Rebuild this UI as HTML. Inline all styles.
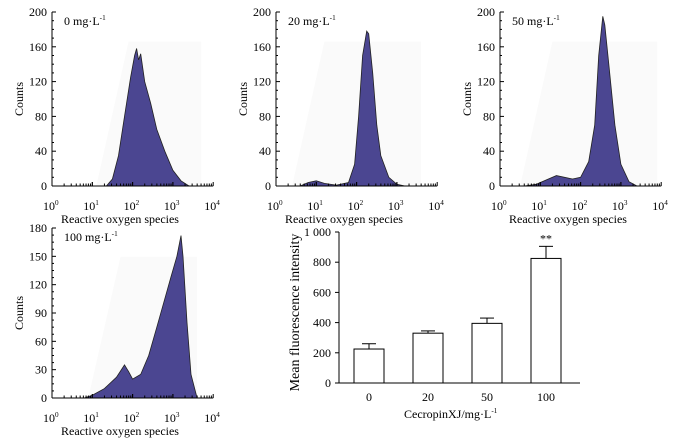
<!DOCTYPE html>
<html><head><meta charset="utf-8"><style>
body{margin:0;background:#fff;}
svg{display:block;font-family:"Liberation Serif",serif;}
</style></head><body>
<svg id="c" width="684" height="439" viewBox="0 0 684 439"></svg>
<script>
const NS="http://www.w3.org/2000/svg";
const svg=document.getElementById('c');
function el(t,a,p){const e=document.createElementNS(NS,t);for(const k in a)e.setAttribute(k,a[k]);(p||svg).appendChild(e);return e;}
function supText(g,x,y,base,sup,size,anchor){
 const t=el('text',{x:x,y:y,'font-size':size,'text-anchor':anchor||'start'},g);
 const a=el('tspan',{},t);a.textContent=base;
 const b=el('tspan',{dy:-5,'font-size':size*0.6},t);b.textContent=sup;
 return t;}

// Histogram data (log10 intensity positions, counts)
const h0x=[1.35,1.5,1.65,1.8,1.95,2.05,2.1,2.15,2.2,2.3,2.45,2.6,2.8,3.0,3.2,3.4];
const h0y=[0,8,35,80,125,150,158,145,152,120,95,65,40,18,6,0];
const h20x=[0.6,0.8,1.0,1.2,1.5,1.8,1.95,2.05,2.15,2.25,2.3,2.4,2.5,2.6,2.8,3.0,3.2];
const h20y=[0,4,6,3,1,4,25,80,150,178,175,130,70,35,10,2,0];
const h50x=[0.6,0.9,1.2,1.4,1.6,1.8,2.0,2.2,2.35,2.45,2.55,2.6,2.7,2.85,3.0,3.2,3.4];
const h50y=[0,2,8,12,10,8,10,28,70,150,195,185,140,70,25,5,0];
const h100x=[0.8,1.0,1.3,1.6,1.8,1.9,2.0,2.2,2.4,2.6,2.8,2.95,3.1,3.2,3.25,3.35,3.45,3.6];
const h100y=[0,3,10,22,35,28,20,25,45,75,105,128,150,172,150,80,25,0];

const panels=[
 {name:'histogram-0',x0:52,y0:186,y1:12,ymax:200,ystep:40,xs:h0x,ys:h0y,label:'0 mg·L',lx:64,bg:[1.1,3.7]},
 {name:'histogram-20',x0:276,y0:186,y1:12,ymax:200,ystep:40,xs:h20x,ys:h20y,label:'20 mg·L',lx:288,bg:[0.4,3.6]},
 {name:'histogram-50',x0:500,y0:186,y1:12,ymax:200,ystep:40,xs:h50x,ys:h50y,label:'50 mg·L',lx:512,bg:[0.5,3.9]},
 {name:'histogram-100',x0:52,y0:398,y1:228,ymax:180,ystep:30,xs:h100x,ys:h100y,label:'100 mg·L',lx:64,bg:[0.9,3.6]}
];
const DEC=40.3;
panels.forEach(p=>{
 const g=el('g',{});  
 const X=v=>p.x0+v*DEC, Y=v=>p.y0-(v/p.ymax)*(p.y0-p.y1);
 el('polygon',{points:`${X(p.bg[0])},${p.y0} ${X(p.bg[0]+0.8)},${Y(p.ymax*0.83)} ${X(p.bg[1])},${Y(p.ymax*0.83)} ${X(p.bg[1])},${p.y0}`,fill:'#fafafa'},g);
 let pts=p.xs.map((v,i)=>`${X(v).toFixed(1)},${Y(p.ys[i]).toFixed(1)}`).join(' ');
 const poly=el('polygon',{points:`${X(p.xs[0])},${p.y0} ${pts} ${X(p.xs[p.xs.length-1])},${p.y0}`,fill:'#4b4691',stroke:'#222',"stroke-width":0.8},g);
 
 el('line',{x1:p.x0,y1:p.y1,x2:p.x0,y2:p.y0,stroke:'#000'},g);
 el('line',{x1:p.x0,y1:p.y0,x2:p.x0+4*DEC,y2:p.y0,stroke:'#000'},g);
 for(let v=0;v<=p.ymax;v+=p.ystep/4){const maj=v%p.ystep===0;
  el('line',{x1:p.x0,y1:Y(v),x2:p.x0+(maj?4:2),y2:Y(v),stroke:'#000'},g);
  if(maj){const t=el('text',{x:p.x0-5,y:Y(v)+4,'text-anchor':'end','font-size':12},g);t.textContent=v;}}
 for(let d=0;d<4;d++)for(let k=1;k<=10;k++){const xx=X(d+Math.log10(k));
  el('line',{x1:xx,y1:p.y0,x2:xx,y2:p.y0-(k===1||k===10?4:2.5),stroke:'#000'},g);}
 for(let d=0;d<=4;d++){supText(g,X(d)-9,p.y0+24,'10',String(d),12);}
 const xl=el('text',{x:p.x0+68,y:p.y0+37,'text-anchor':'middle','font-size':12},g);xl.textContent='Reactive oxygen species';
 const yl=el('text',{x:0,y:0,'text-anchor':'middle','font-size':12,transform:`translate(${p.x0-29},${(p.y0+p.y1)/2}) rotate(-90)`},g);yl.textContent='Counts';
 supText(g,p.lx,p.y1+13,p.label,'-1',12);
});

// Bar chart
const barCats=['0','20','50','100'];
const barVals=[225,330,395,825];
const barErr=[35,15,35,80];
const barTicks=[0,200,400,600,800,1000];
const bx0=339,by0=383,by1=232;
const BY=v=>by0-v/1000*(by0-by1);
const BX=i=>369+i*59;
const bg=el('g',{});
el('line',{x1:bx0,y1:by1,x2:bx0,y2:by0,stroke:'#000'},bg);
el('line',{x1:bx0,y1:by0,x2:580,y2:by0,stroke:'#000'},bg);
barTicks.forEach(v=>{el('line',{x1:bx0,y1:BY(v),x2:bx0-4,y2:BY(v),stroke:'#000'},bg);
 const t=el('text',{x:bx0-8,y:BY(v)+4,'text-anchor':'end','font-size':12},bg);t.textContent=v===1000?'1 000':v;});
barCats.forEach((c,i)=>{
 const r=el('rect',{x:BX(i)-15,y:BY(barVals[i]),width:30,height:by0-BY(barVals[i]),fill:'#fff',stroke:'#000'},bg);
 
 el('line',{x1:BX(i),y1:BY(barVals[i]),x2:BX(i),y2:BY(barVals[i]+barErr[i]),stroke:'#000'},bg);
 el('line',{x1:BX(i)-7,y1:BY(barVals[i]+barErr[i]),x2:BX(i)+7,y2:BY(barVals[i]+barErr[i]),stroke:'#000'},bg);
 const t=el('text',{x:BX(i),y:by0+18,'text-anchor':'middle','font-size':12},bg);t.textContent=c;
});
const st=el('text',{x:BX(3),y:BY(barVals[3]+barErr[3])-4,'text-anchor':'middle','font-size':12},bg);st.textContent='**';
supText(bg,404,418,'CecropinXJ/mg·L','-1',12);
const byl=el('text',{x:0,y:0,'text-anchor':'middle','font-size':14,transform:`translate(299,${(by0+by1)/2+5}) rotate(-90)`},bg);byl.textContent='Mean fluorescence intensity';
</script>
</body></html>
